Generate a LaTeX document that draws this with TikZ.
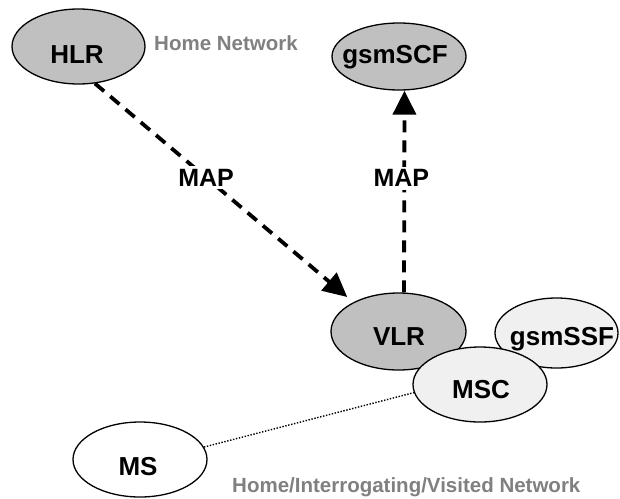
\documentclass[tikz,border=0pt]{standalone}
\usepackage{fontspec}
\setmainfont{Liberation Sans}
\usetikzlibrary{arrows.meta,shapes.geometric,calc}
\definecolor{darkfill}{RGB}{192,192,192}
\definecolor{lightfill}{RGB}{240,240,240}
\definecolor{nettext}{RGB}{128,128,128}
\tikzset{
  ell/.style={ellipse, draw=black, line width=1.3pt, inner sep=0pt},
  darkell/.style={ell, fill=darkfill},
  lightell/.style={ell, fill=lightfill},
  whiteell/.style={ell, fill=white},
  eltext/.style={anchor=base, inner sep=0pt, font=\bfseries\fontsize{26}{30}\selectfont},
  nettxt/.style={anchor=base west, inner sep=0pt, text=nettext, font=\bfseries\fontsize{20.5}{24}\selectfont},
  maplbl/.style={fill=white, inner sep=3pt, font=\bfseries\fontsize{25}{30}\selectfont},
  maparrow/.style={line width=3.8pt, dash pattern=on 12pt off 8pt, -{Triangle[length=24pt,width=23pt]}},
  radiolink/.style={line width=1.4pt, dash pattern=on 1.4pt off 1.6pt}
}
\begin{document}
\begin{tikzpicture}[x=1pt,y=-1pt]
\useasboundingbox (0,0) rectangle (620,498);
% ellipses
\node[darkell, minimum width=133pt, minimum height=75pt] (hlr) at (78.5,46.5) {};
\node[darkell, minimum width=134pt, minimum height=67pt] (scf) at (399,56.5) {};
\node[lightell, minimum width=123pt, minimum height=70pt] (ssf) at (556.5,333) {};
\node[darkell, minimum width=135pt, minimum height=77pt] (vlr) at (398.5,331.5) {};
\node[lightell, minimum width=134pt, minimum height=75pt] (msc) at (480,384.5) {};
\node[whiteell, minimum width=134pt, minimum height=75pt] (ms) at (140,459.5) {};
% texts
\node[eltext] (hlrt) at (77,63) {HLR};
\node[eltext] (scft) at (395,63) {gsmSCF};
\node[eltext] (vlrt) at (399,345) {VLR};
\node[eltext] (ssft) at (562,345) {gsmSSF};
\node[eltext] (msct) at (481,398) {MSC};
\node[eltext] (mst) at (138,475) {MS};
\node[nettxt] (home) at (154,50) {Home Network};
\node[nettxt] (visited) at (232,492) {Home/Interrogating/Visited Network};
% connectors
\draw[maparrow, shorten >=8pt] (hlr.-66) -- (vlr.147)
  node[maplbl, pos=0.43] (map1) {MAP};
\draw[maparrow] ([xshift=5.5pt]vlr.north) -- ([xshift=5.5pt]scf.south)
  node[maplbl, pos=0.565, xshift=-3pt] (map2) {MAP};
\draw[radiolink] (ms.11) -- (msc.187);
\end{tikzpicture}
\end{document}
